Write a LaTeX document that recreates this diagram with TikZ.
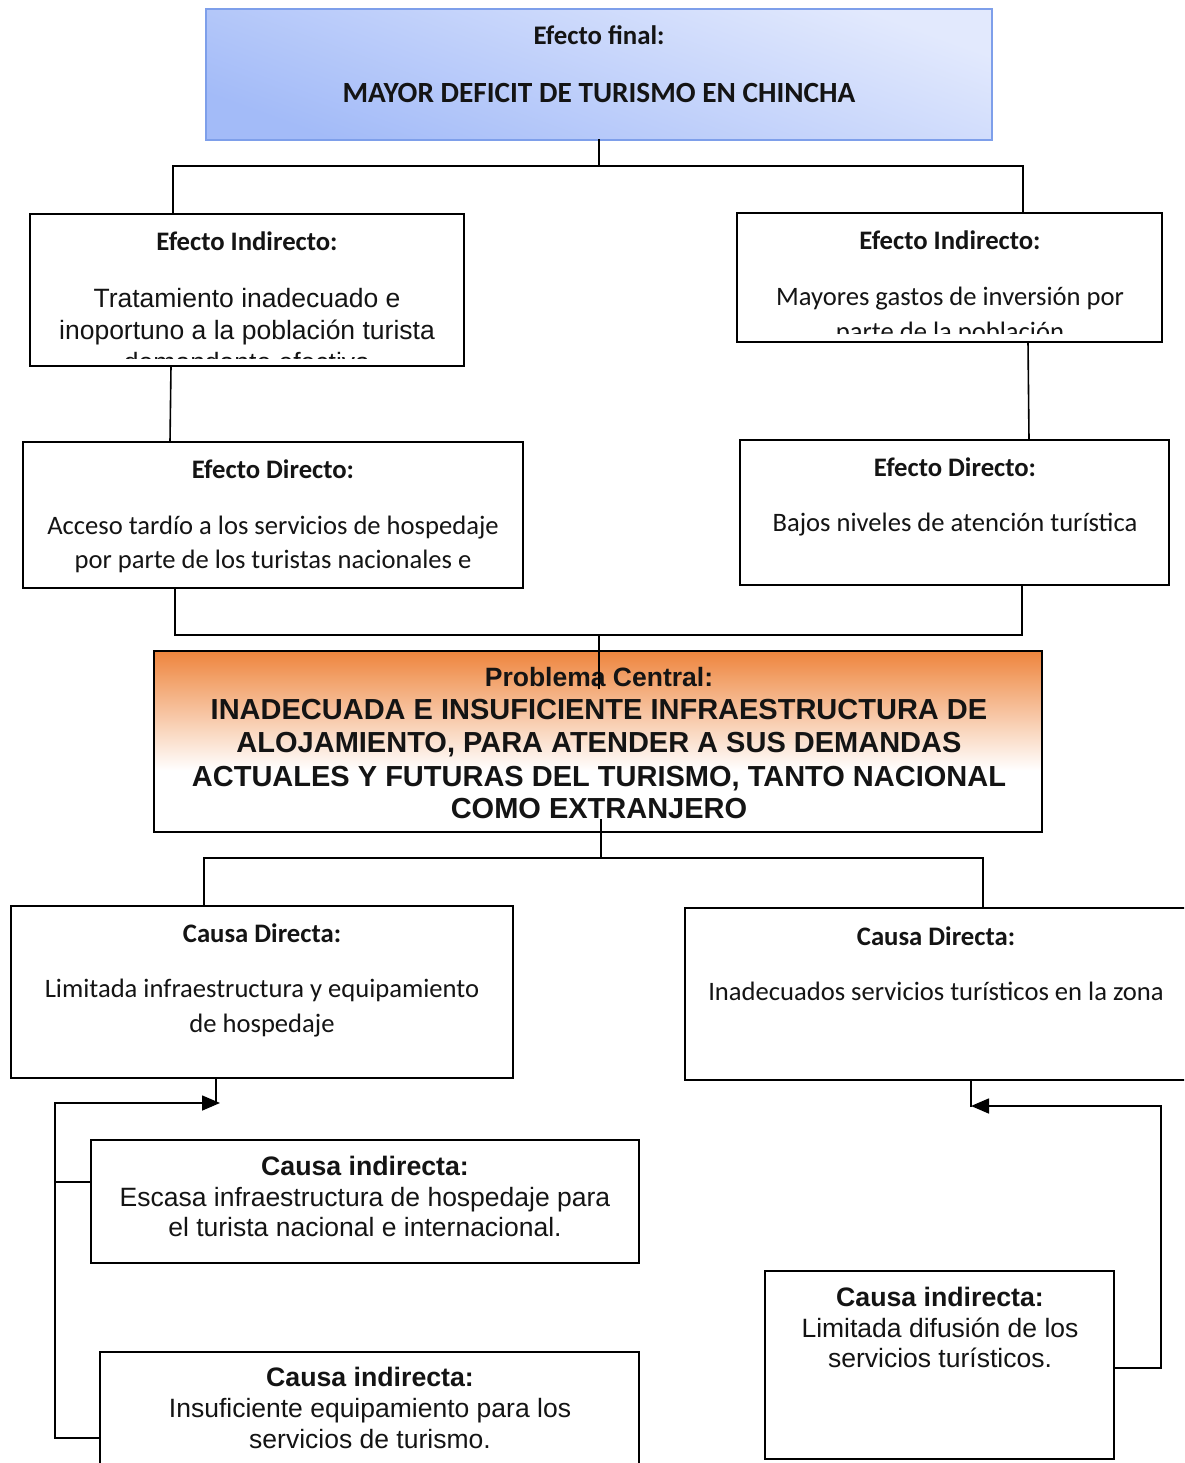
\documentclass[tikz,border=0pt]{standalone}
\usepackage{fontspec}
\setmainfont{Liberation Sans}
\newfontfamily\calfont{Carlito}
\usetikzlibrary{arrows.meta,calc}
\definecolor{blueD}{HTML}{A3BBF8}
\definecolor{blueL}{HTML}{E2E9FD}
\definecolor{blueB}{HTML}{7E9FEA}
\definecolor{orT}{HTML}{EE853D}
\definecolor{txtc}{HTML}{141414}
\pgfdeclareverticalshading{probsh}{100bp}{color(0bp)=(white); color(25bp)=(white); color(42bp)=(white); color(75bp)=(orT); color(100bp)=(orT)}
\tikzset{
  boxst/.style={draw=black, line width=1.5pt, anchor=north west, inner sep=0pt, outer sep=0pt},
  conn/.style={line width=1.6pt, line cap=rect},
  arr/.style={line width=1.6pt, -{Triangle[length=18pt,width=15pt]}},
  txt/.style={anchor=base, inner sep=0pt, text=txtc},
  calb/.style={font=\calfont\bfseries\fontsize{26.7}{31}\selectfont},
  calr/.style={font=\calfont\fontsize{26.6}{31}\selectfont},
  arib/.style={font=\bfseries\fontsize{26.7}{31}\selectfont},
  arir/.style={font=\fontsize{26.5}{31}\selectfont},
  prob/.style={font=\bfseries\fontsize{29}{33}\selectfont}
}
\begin{document}
\begin{tikzpicture}[x=1pt,y=-1pt]
\clip (0,0) rectangle (1184,1463);
\fill[white] (0,0) rectangle (1184,1463);

% ---------- boxes ----------
\node[boxst, draw=blueB, top color=blueL, bottom color=blueD, shading angle=-20,
      minimum width=786pt, minimum height=131pt] (ef) at (206,9) {};
\node[boxst, minimum width=434pt, minimum height=152pt] (ei1) at (30,214) {};
\node[boxst, minimum width=425pt, minimum height=129pt] (ei2) at (737,213) {};
\node[boxst, minimum width=500pt, minimum height=146pt] (ed1) at (23,442) {};
\node[boxst, minimum width=429pt, minimum height=145pt] (ed2) at (740,440) {};
\node[boxst, shading=probsh, minimum width=888pt, minimum height=181pt] (pc) at (154,651) {};
\node[boxst, minimum width=502pt, minimum height=172pt] (cd1) at (11,906) {};
\node[boxst, minimum width=510pt, minimum height=172pt] (cd2) at (685,908) {};
\node[boxst, minimum width=548pt, minimum height=123pt] (ci1) at (91,1140) {};
\node[boxst, minimum width=539pt, minimum height=130pt] (ci2) at (100,1352) {};
\node[boxst, minimum width=349pt, minimum height=188pt] (ci3) at (765,1271) {};

% ---------- texts ----------
\node[txt, font=\calfont\bfseries\fontsize{26.8}{31}\selectfont] (t01) at (599,45) {Efecto final:};
\node[txt, font=\calfont\bfseries\fontsize{29.3}{33}\selectfont] (t02) at (599,103) {MAYOR DEFICIT DE TURISMO EN CHINCHA};

\node[txt, calb] (t03) at (247,251) {Efecto Indirecto:};
\begin{scope}
\clip ($(ei1.north west)+(2,2)$) rectangle ($(ei1.south east)+(-2,-8)$);
\node[txt, arir] (t04) at (247,307) {Tratamiento inadecuado e};
\node[txt, arir] (t05) at (247,339) {inoportuno a la población turista};
\node[txt, arir] (t06) at (247,371) {demandante efectiva};
\end{scope}

\node[txt, calb] (t07) at (950,250) {Efecto Indirecto:};
\begin{scope}
\clip ($(ei2.north west)+(2,2)$) rectangle ($(ei2.south east)+(-2,-9)$);
\node[txt, calr] (t08) at (950,305) {Mayores gastos de inversión por};
\node[txt, calr] (t09) at (950,340) {parte de la población};
\end{scope}

\node[txt, calb] (t10) at (273,478) {Efecto Directo:};
\node[txt, calr] (t11) at (273,534) {Acceso tardío a los servicios de hospedaje};
\node[txt, calr] (t12) at (273,568) {por parte de los turistas nacionales e};

\node[txt, calb] (t13) at (955,476) {Efecto Directo:};
\node[txt, calr] (t14) at (955,531) {Bajos niveles de atención turística};

\node[txt, font=\bfseries\fontsize{26.5}{31}\selectfont] (t15) at (599,686) {Problema Central:};
\node[txt, prob] (t16) at (599,719) {INADECUADA E INSUFICIENTE INFRAESTRUCTURA DE};
\node[txt, prob] (t17) at (599,752) {ALOJAMIENTO, PARA ATENDER A SUS DEMANDAS};
\node[txt, prob] (t18) at (599,786) {ACTUALES Y FUTURAS DEL TURISMO, TANTO NACIONAL};
\node[txt, prob] (t19) at (599,818) {COMO EXTRANJERO};

\node[txt, calb] (t20) at (262,942) {Causa Directa:};
\node[txt, calr] (t21) at (262,997) {Limitada infraestructura y equipamiento};
\node[txt, calr] (t22) at (262,1032) {de hospedaje};

\node[txt, calb] (t23) at (936,945) {Causa Directa:};
\node[txt, calr] (t24) at (936,1000) {Inadecuados servicios turísticos en la zona};

\node[txt, arib] (t25) at (365,1175) {Causa indirecta:};
\node[txt, arir] (t26) at (365,1206) {Escasa infraestructura de hospedaje para};
\node[txt, arir] (t27) at (365,1236) {el turista nacional e internacional.};

\node[txt, arib] (t28) at (370,1386) {Causa indirecta:};
\node[txt, arir] (t29) at (370,1417) {Insuficiente equipamiento para los};
\node[txt, arir] (t30) at (370,1448) {servicios de turismo.};

\node[txt, arib] (t31) at (940,1306) {Causa indirecta:};
\node[txt, arir] (t32) at (940,1337) {Limitada difusión de los};
\node[txt, arir] (t33) at (940,1367) {servicios turísticos.};

% ---------- junction coordinates ----------
\coordinate (j1) at (599,166);
\coordinate (j1l) at (173,166);
\coordinate (j1r) at (1023,166);
\coordinate (j2) at (599,635);
\coordinate (j2l) at (175,635);
\coordinate (j2r) at (1022,635);
\coordinate (j2e) at (599,688);
\coordinate (j3s) at (601,820);
\coordinate (j3) at (601,858);
\coordinate (j3l) at (204,858);
\coordinate (j3r) at (983,858);
\coordinate (k1) at (216,1103);
\coordinate (k1t) at (220,1103);
\coordinate (k1l) at (55,1103);
\coordinate (k2) at (55,1182);
\coordinate (k3) at (55,1438);
\coordinate (m1) at (971,1106);
\coordinate (m1r) at (1161,1106);
\coordinate (m2) at (1161,1368);

% ---------- connectors ----------
\draw[conn] (ef.south -| j1) -- (j1);
\draw[conn] (j1l) -- (j1r);
\draw[conn] (j1l) -- (ei1.north -| j1l);
\draw[conn] (j1r) -- (ei2.north -| j1r);
\draw[conn] (ei1.south -| 171,0) -- (ed1.north -| 170,0);
\draw[conn] (ei2.south -| 1028,0) -- (ed2.north -| 1029,0);
\draw[conn] (ed1.south -| j2l) -- (j2l) -- (j2r) -- (ed2.south -| j2r);
\draw[conn] (j2) -- (j2e);
\draw[conn] (j3s) -- (j3);
\draw[conn] (j3l) -- (j3r);
\draw[conn] (j3l) -- (cd1.north -| j3l);
\draw[conn] (j3r) -- (cd2.north -| j3r);

\draw[conn] (cd1.south -| k1) -- (k1);
\draw[conn] (ci2.west |- k3) -- (k3) -- (k1l);
\draw[arr] (k1l) -- (k1t);
\draw[conn] (ci1.west |- k2) -- (k2);

\draw[conn] (cd2.south -| m1) -- (m1);
\draw[conn] (ci3.east |- m2) -- (m2) -- (m1r);
\draw[arr] (m1r) -- (m1);
\end{tikzpicture}
\end{document}
